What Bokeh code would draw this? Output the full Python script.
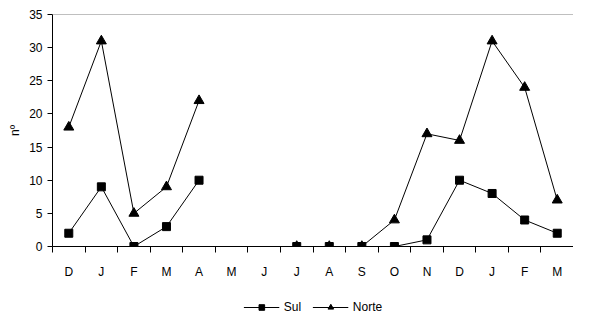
import numpy as np
from bokeh.plotting import figure
from bokeh.layouts import column
from bokeh.models import FixedTicker, Span, Legend, LegendItem, Range1d
from bokeh.embed import file_html
from bokeh.resources import INLINE

months = ["D", "J", "F", "M", "A", "M", "J", "J", "A", "S", "O", "N", "D", "J", "F", "M"]
sul = [2, 9, 0, 3, 10, np.nan, np.nan, 0, 0, 0, 0, 1, 10, 8, 4, 2]
norte = [18, 31, 5, 9, 22, np.nan, np.nan, 0, 0, 0, 4, 17, 16, 31, 24, 7]
y_ticks = [0, 5, 10, 15, 20, 25, 30, 35]
series_names = ["Sul", "Norte"]

x = list(range(len(months)))
FONT = "Liberation Sans"

p = figure(width=573, height=285, output_backend="svg", toolbar_location=None,
           x_range=Range1d(-0.5, len(months) - 0.5), y_range=Range1d(0, 35),
           min_border_left=52, min_border_right=0, min_border_top=14, min_border_bottom=39)
p.outline_line_color = None
p.grid.grid_line_color = None
p.background_fill_color = "white"
p.border_fill_color = "white"

# axes
xa = p.xaxis[0]
xa.ticker = FixedTicker(ticks=x, minor_ticks=[i - 0.5 for i in range(len(months) + 1)])
xa.major_label_overrides = {i: m for i, m in enumerate(months)}
xa.major_tick_out = 0
xa.major_tick_in = 0
xa.minor_tick_out = 6
xa.minor_tick_in = 0
xa.minor_tick_line_color = "black"
xa.axis_line_color = "black"
xa.major_label_standoff = 12
xa.major_label_text_font = FONT
xa.major_label_text_font_size = "12px"
xa.major_label_text_color = "black"

ya = p.yaxis[0]
ya.ticker = FixedTicker(ticks=y_ticks, minor_ticks=[])
ya.major_tick_out = 5
ya.major_tick_in = 0
ya.major_tick_line_color = "black"
ya.axis_line_color = "black"
ya.major_label_standoff = 5
ya.major_label_text_font = FONT
ya.major_label_text_font_size = "12px"
ya.major_label_text_color = "black"
ya.axis_label = "nº"
ya.axis_label_text_font = FONT
ya.axis_label_text_font_size = "12px"
ya.axis_label_text_font_style = "normal"
ya.axis_label_text_color = "black"
ya.axis_label_standoff = 4

p.add_layout(Span(location=35, dimension="width", line_color="#808080", line_width=1))

p.line(x, sul, line_color="black", line_width=1)
p.scatter(x, sul, marker="square", size=8, fill_color="black", line_color="black")
p.line(x, norte, line_color="black", line_width=1)
p.scatter(x, norte, marker="triangle", size=10, fill_color="black", line_color="black")

# legend strip below the chart (its renderers lie outside the visible range)
lg = figure(width=573, height=30, output_backend="svg", toolbar_location=None,
            x_range=Range1d(0, 1), y_range=Range1d(0, 1),
            x_axis_location=None, y_axis_location=None,
            min_border_left=52, min_border_right=0, min_border_top=0, min_border_bottom=0)
lg.outline_line_color = None
lg.grid.grid_line_color = None
lg.border_fill_color = "white"
hx, hy = [5, 6], [5, 6]
e1 = lg.line(hx, hy, line_color="black", line_width=1)
f1 = lg.scatter(hx, hy, marker="square", size=8, fill_color="black", line_color="black")
e2 = lg.line(hx, hy, line_color="black", line_width=1)
f2 = lg.scatter(hx, hy, marker="triangle", size=10, fill_color="black", line_color="black")
legend = Legend(items=[LegendItem(label=series_names[0], renderers=[e1, f1]),
                       LegendItem(label=series_names[1], renderers=[e2, f2])],
                orientation="horizontal", location="bottom_center",
                border_line_color=None, background_fill_alpha=0,
                glyph_width=36, glyph_height=14, label_standoff=5, spacing=8,
                padding=0, margin=1,
                label_text_font=FONT, label_text_font_size="12px",
                label_text_color="black")
lg.add_layout(legend, "center")

layout = column(p, lg, spacing=0)
open("out.html", "w").write(file_html(layout, INLINE))
